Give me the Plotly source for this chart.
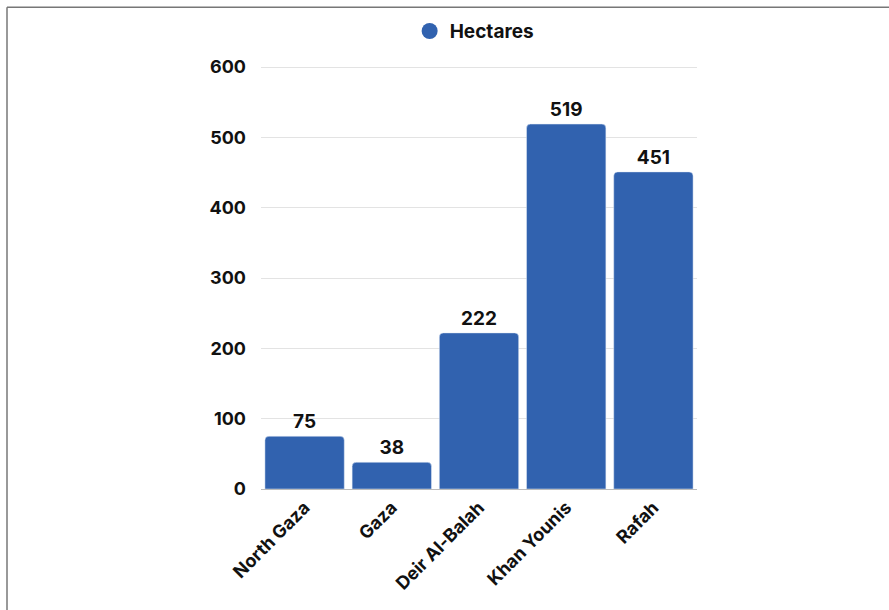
import plotly.graph_objects as go

categories = ["North Gaza", "Gaza", "Deir Al-Balah", "Khan Younis", "Rafah"]
hectares = [75, 38, 222, 519, 451]
y_ticks = [0, 100, 200, 300, 400, 500, 600]
series_name = "Hectares"

BLUE = "#3162AF"
FONT = "Inter"
Y_MAX = 603

W, H = 889, 610
PLOT_L, PLOT_R, PLOT_B = 261, 697, 489
PLOT_T = 67 - (Y_MAX - 600) * (PLOT_B - 67) / 600
L, R, T, B = PLOT_L, W - PLOT_R, PLOT_T, H - PLOT_B
pw, ph = W - L - R, H - T - B

def px_x(px):
    return (px - L) / pw

def px_y(py):
    return (H - B - py) / ph

fig = go.Figure()
fig.add_trace(go.Bar(
    x=categories, y=hectares, marker_color=BLUE, showlegend=False,
    text=[str(v) for v in hectares], textposition="outside",
    textfont=dict(family=FONT, size=19, color="#111", weight="bold"),
    cliponaxis=False,
))
fig.add_trace(go.Scatter(
    x=[None], y=[None], mode="markers", name=series_name,
    marker=dict(symbol="circle", size=20, color=BLUE),
))

fig.update_layout(
    width=W, height=H,
    margin=dict(l=L, r=R, t=T, b=B),
    paper_bgcolor="white", plot_bgcolor="white",
    bargap=0.09,
    barcornerradius=4,
    font=dict(family=FONT, size=18, color="#111"),
    legend=dict(orientation="h", x=0.49, xanchor="center", y=px_y(12), yanchor="top",
                font=dict(family=FONT, size=19, color="#111", weight="bold"),
                itemwidth=30),
    xaxis=dict(
        tickangle=-45, showgrid=False, showline=True, linecolor="#bbbbbb", linewidth=1,
        tickfont=dict(family=FONT, size=18, color="#111", weight="bold"),
        ticks="", fixedrange=True,
    ),
    yaxis=dict(
        range=[0, Y_MAX], tickvals=y_ticks, showgrid=True, gridcolor="#e3e3e3", gridwidth=1,
        zeroline=False, showline=False,
        tickfont=dict(family=FONT, size=18, color="#111", weight="bold"),
        ticklabelstandoff=14, fixedrange=True,
    ),
    shapes=[
        dict(type="line", xref="paper", yref="paper",
             x0=px_x(7), x1=px_x(900), y0=px_y(7), y1=px_y(7),
             line=dict(color="#777777", width=1.5)),
        dict(type="line", xref="paper", yref="paper",
             x0=px_x(7), x1=px_x(7), y0=px_y(7), y1=px_y(620),
             line=dict(color="#777777", width=1.5)),
    ],
)

fig.write_html("out.html", config={"displayModeBar": False},
               post_script="document.body.style.margin='0';document.body.style.overflow='hidden';")
